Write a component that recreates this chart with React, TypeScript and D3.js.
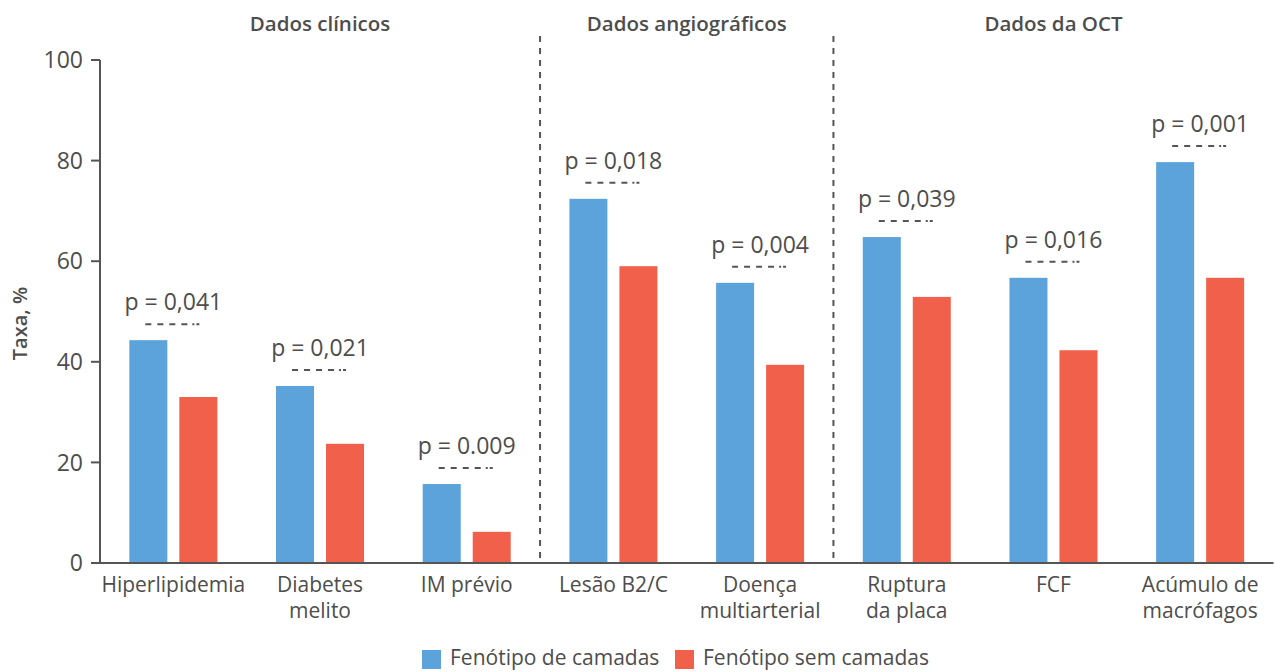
import React from "react";
import * as d3 from "d3";

const categories = [
  ["Hiperlipidemia"],
  ["Diabetes", "melito"],
  ["IM prévio"],
  ["Lesão B2/C"],
  ["Doença", "multiarterial"],
  ["Ruptura", "da placa"],
  ["FCF"],
  ["Acúmulo de", "macrófagos"],
];
const layered = [44.3, 35.2, 15.7, 72.4, 55.7, 64.8, 56.7, 79.7];
const nonLayered = [33.0, 23.7, 6.2, 59.0, 39.4, 52.9, 42.3, 56.7];
const pValues = ["p = 0,041", "p = 0,021", "p = 0.009", "p = 0,018", "p = 0,004", "p = 0,039", "p = 0,016", "p = 0,001"];
const yTicks = [0, 20, 40, 60, 80, 100];
const sections = [
  { label: "Dados clínicos", from: 0, to: 2 },
  { label: "Dados angiográficos", from: 3, to: 4 },
  { label: "Dados da OCT", from: 5, to: 7 },
];
const seriesNames = ["Fenótipo de camadas", "Fenótipo sem camadas"];

const BLUE = "#5BA3DA";
const RED = "#F0604A";
const TEXT = "#4d4d4d";
const FONT = "'Open Sans', 'Noto Sans', sans-serif";

export default function App() {
  const W = 1275, H = 672;
  const x0 = 100, x1 = 1273.5;
  const y = d3.scaleLinear().domain([0, 100]).range([563, 60]);
  const x = d3.scaleBand<number>().domain(d3.range(categories.length)).range([x0, x1]).padding(0);
  const bw = 38, gap = 12;
  const cx = (i: number) => (x(i) as number) + x.bandwidth() / 2;

  return (
    <div style={{ position: "absolute", left: 0, top: 0 }}>
      <svg width={W} height={H} style={{ display: "block", fontFamily: FONT }}>
        <rect width={W} height={H} fill="#fff" />
        {/* section separators */}
        {[2, 4].map((i) => {
          const sx = ((x(i) as number) + x.bandwidth() + (x(i + 1) as number)) / 2;
          return (
            <line key={i} x1={sx} x2={sx} y1={36} y2={563} stroke="#555" strokeWidth={2} strokeDasharray="6,6" />
          );
        })}
        {/* section headers */}
        {sections.map((s) => (
          <text key={s.label} x={(cx(s.from) + cx(s.to)) / 2} y={31} textAnchor="middle" fontSize={20.5} fontWeight={600} fill={TEXT}>
            {s.label}
          </text>
        ))}
        {/* bars */}
        {categories.map((_, i) => (
          <g key={i}>
            <rect x={cx(i) - gap / 2 - bw} y={y(layered[i])} width={bw} height={y(0) - y(layered[i])} fill={BLUE} />
            <rect x={cx(i) + gap / 2} y={y(nonLayered[i])} width={bw} height={y(0) - y(nonLayered[i])} fill={RED} />
            <line
              x1={cx(i) - 28}
              x2={cx(i) + 30}
              y1={y(Math.max(layered[i], nonLayered[i])) - 16}
              y2={y(Math.max(layered[i], nonLayered[i])) - 16}
              stroke="#555"
              strokeWidth={2}
              strokeDasharray="6,6,6,6,6,6,6,5,2,2,3"
            />
            <text x={cx(i)} y={y(Math.max(layered[i], nonLayered[i])) - 30} textAnchor="middle" fontSize={23} fill={TEXT}>
              {pValues[i]}
            </text>
          </g>
        ))}
        {/* y axis */}
        <line x1={x0} x2={x0} y1={y(100)} y2={y(0)} stroke="#555" strokeWidth={2} />
        {yTicks.map((t) => (
          <g key={t}>
            <line x1={x0 - 9} x2={x0} y1={y(t)} y2={y(t)} stroke="#555" strokeWidth={2} />
            <text x={x0 - 17} y={y(t)} dy="0.36em" textAnchor="end" fontSize={23} fill={TEXT}>
              {t}
            </text>
          </g>
        ))}
        <text transform={`translate(27,${(y(0) + y(100)) / 2 + 12}) rotate(-90)`} textAnchor="middle" fontSize={20} fontWeight={600} fill={TEXT}>
          Taxa, %
        </text>
        {/* x axis */}
        <line x1={x0 - 9} x2={x1} y1={y(0)} y2={y(0)} stroke="#555" strokeWidth={2} />
        {categories.map((lines, i) => (
          <text key={i} x={cx(i)} textAnchor="middle" fontSize={21} fill={TEXT}>
            {lines.map((l, k) => (
              <tspan key={k} x={cx(i)} y={592 + k * 26}>
                {l}
              </tspan>
            ))}
          </text>
        ))}
        {/* legend */}
        <rect x={422} y={650} width={19} height={19} fill={BLUE} />
        <text x={450} y={665} fontSize={21} fill={TEXT}>{seriesNames[0]}</text>
        <rect x={675} y={650} width={19} height={19} fill={RED} />
        <text x={703} y={665} fontSize={21} fill={TEXT}>{seriesNames[1]}</text>
      </svg>
    </div>
  );
}
